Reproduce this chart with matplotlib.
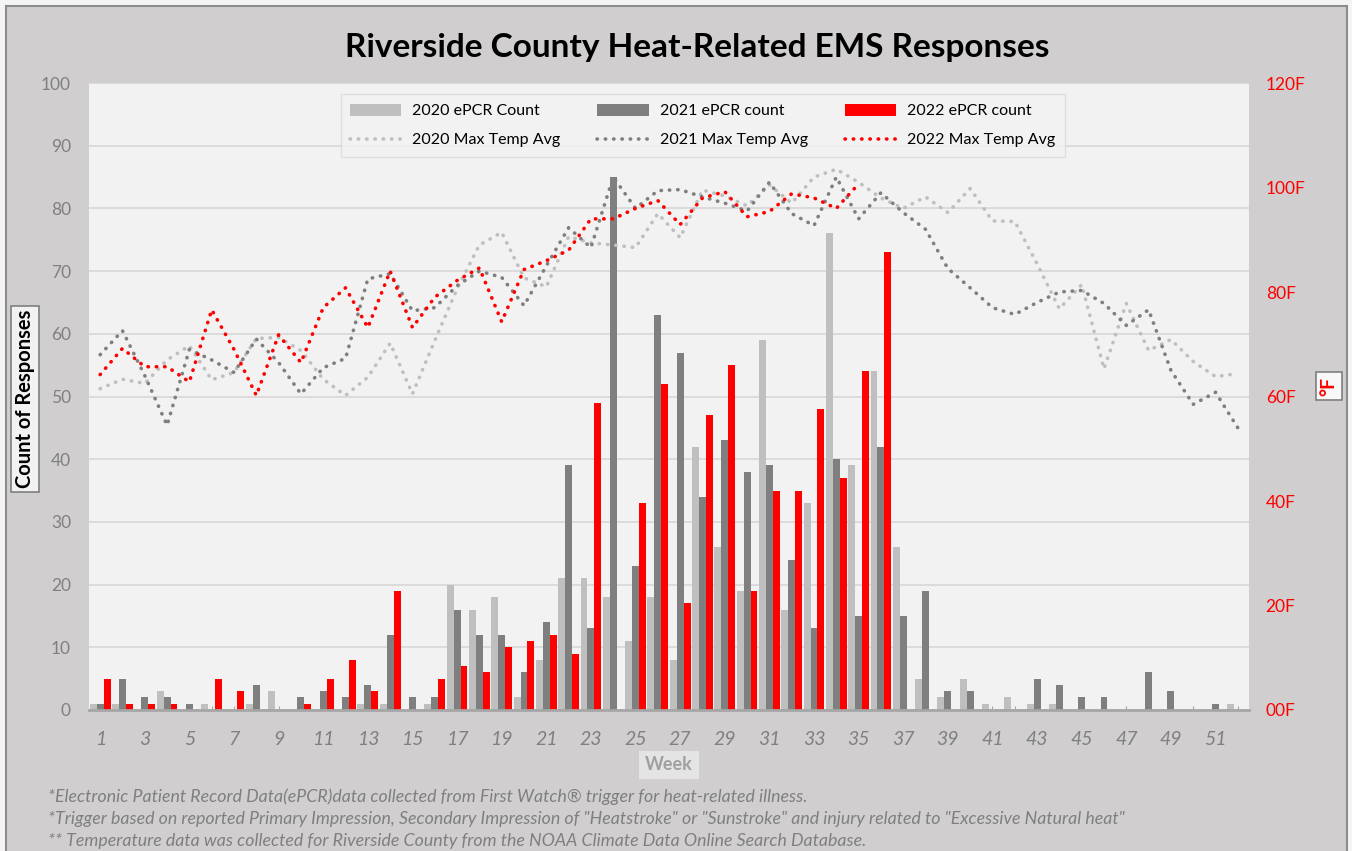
import matplotlib.pyplot as plt
from matplotlib.patches import Rectangle
import numpy as np

plt.rcParams['font.family'] = ['Lato', 'DejaVu Sans']

weeks = list(range(1, 53))

# weekly ePCR counts
count_2020 = [1, 1, 0, 3, 0, 1, 0, 1, 3, 0, 0, 0, 1, 1, 0, 1, 20, 16, 18, 2,
              8, 21, 21, 18, 11, 18, 8, 42, 26, 19, 59, 16, 33, 76, 39, 54, 26, 5, 2, 5,
              1, 2, 1, 1, 0, 0, 0, 0, 0, 0, 0, 1]
count_2021 = [1, 5, 2, 2, 1, 0, 0, 4, 0, 2, 3, 2, 4, 12, 2, 2, 16, 12, 12, 6,
              14, 39, 13, 85, 23, 63, 57, 34, 43, 38, 39, 24, 13, 40, 15, 42, 15, 19, 3, 3,
              0, 0, 5, 4, 2, 2, 0, 6, 3, 0, 1, 0]
count_2022 = [5, 1, 1, 1, 0, 5, 3, 0, 0, 1, 5, 8, 3, 19, 0, 5, 7, 6, 10, 11,
              12, 9, 49, 0, 33, 52, 17, 47, 55, 19, 35, 35, 48, 37, 54, 73]

# weekly max temperature averages (F)
temp_2020 = [61.5, 63.3, 62.5, 67, 69.7, 63.2, 64.6, 71.1, 71.3, 68.8, 63.3, 60.2, 63.7,
             70.2, 60.5, 70.7, 80.6, 89, 91.4, 82.7, 81, 90.6, 89.4, 89, 88.5, 95,
             90.4, 99.5, 98.4, 96.5, 100.5, 97, 102, 103.5, 101, 98, 96, 98.2, 95.2,
             99.8, 93.6, 93.5, 85.4, 76.8, 81.4, 65.3, 77.8, 68.8, 70.9, 66.7, 63.8, 64.4]
temp_2021 = [68, 72.6, 64, 54.5, 69, 67, 64.6, 71, 66.5, 60.5, 65.5, 67.3, 82.5,
             83.5, 76.4, 77, 81.2, 84, 82.8, 77.4, 85, 92.3, 88.5, 102, 96, 99.4,
             99.6, 98.2, 97, 95.5, 101, 95, 92.7, 102, 94, 99, 95.2, 92, 84.5,
             80.8, 77, 75.7, 78, 80, 80.3, 77.8, 73.6, 76.6, 65, 58.5, 60.8, 54]
temp_2022 = [64.2, 69.2, 65.7, 65.7, 62.8, 76.6, 69, 60.2, 71.8, 66.5, 77, 80.8, 73.2,
             84, 73.2, 79, 82.2, 84.6, 74.3, 84.3, 86, 88, 94, 94, 96, 97.5,
             92.9, 98, 99.2, 94.4, 95.4, 98.8, 98, 96, 100.7]

temp_ticks = [0, 20, 40, 60, 80, 100, 120]
temp_labels = ['00F', '20F', '40F', '60F', '80F', '100F', '120F']

C20 = '#bfbfbf'
C21 = '#7f7f7f'
C22 = '#ff0000'

fig = plt.figure(figsize=(13.52, 8.51), dpi=100, facecolor='#f4f4f4')
fig.patches.append(Rectangle((6 / 1352, -0.02), 1341 / 1352, 1.02 - 6 / 851,
                             transform=fig.transFigure, facecolor='#d0cece',
                             edgecolor='#8c8c8c', linewidth=1.5, zorder=-10))

ax = fig.add_axes([89 / 1352, 1 - 710 / 851, 1160 / 1352, 627 / 851])
ax.set_facecolor('#f2f2f2')

x = np.arange(len(weeks))
w = 0.31
b20 = ax.bar(x[:len(count_2020)] - w, count_2020, w, color=C20, label='2020 ePCR Count')
b21 = ax.bar(x[:len(count_2021)], count_2021, w, color=C21, label='2021 ePCR count')
b22 = ax.bar(x[:len(count_2022)] + w, count_2022, w, color=C22, label='2022 ePCR count')

ax.set_xlim(-0.5, len(weeks) - 0.5)
ax.set_ylim(0, 100)
ax.set_yticks(range(0, 101, 10))
ax.yaxis.grid(True, color='#d9d9d9', linewidth=1.3)
ax.set_axisbelow(True)
for s in ['left', 'right', 'top']:
    ax.spines[s].set_visible(False)
ax.spines['bottom'].set_color('#a6a6a6')
ax.spines['bottom'].set_linewidth(2)
ax.tick_params(axis='y', length=0, labelsize=12.5, labelcolor='#808080', pad=13)
ax.set_xticks(x)
ax.set_xticklabels([str(wk) if wk % 2 == 1 else '' for wk in weeks],
                   fontsize=14, style='italic', color='#808080')
ax.tick_params(axis='x', direction='in', length=3, color='#a6a6a6', pad=15)

ax.set_xlabel('Week', fontsize=13, fontweight='bold', color='#a0a0a0', labelpad=6,
              bbox=dict(facecolor='#e4e4e4', edgecolor='none', pad=4))

fig.text(25 / 1352, 1 - 399 / 851, 'Count of Responses', rotation=90, ha='center', va='center',
         fontsize=14.5, fontweight='bold', color='black',
         bbox=dict(facecolor='#f2f2f2', edgecolor='#7f7f7f', pad=3, linewidth=1.2))
fig.text(1329 / 1352, 1 - 386 / 851, '°F', rotation=90, ha='center', va='center',
         fontsize=14, fontweight='bold', color='red',
         bbox=dict(facecolor='#f8f8f8', edgecolor='#7f7f7f', pad=3, linewidth=1.2))

ax2 = ax.twinx()
dots = dict(linestyle=(0, (0.1, 2.2)), dash_capstyle='round', linewidth=2.6)
l20, = ax2.plot(x[:len(temp_2020)], temp_2020, color=C20, label='2020 Max Temp Avg', **dots)
l21, = ax2.plot(x[:len(temp_2021)], temp_2021, color=C21, label='2021 Max Temp Avg', **dots)
l22, = ax2.plot(x[:len(temp_2022)], temp_2022, color=C22, label='2022 Max Temp Avg', **dots)
ax2.set_ylim(0, 120)
ax2.set_yticks(temp_ticks)
ax2.set_yticklabels(temp_labels)
ax2.tick_params(axis='y', length=0, labelsize=12.5, labelcolor='red', pad=12)
for s in ax2.spines.values():
    s.set_visible(False)

handles = [b20, l20, b21, l21, b22, l22]
leg = ax2.legend(handles, [h.get_label() for h in handles],
                 ncol=3, loc='upper center', bbox_to_anchor=(0.529, 0.995),
                 fontsize=11.5, frameon=True, fancybox=False, columnspacing=2.3,
                 handlelength=3.2, handleheight=0.8, handletextpad=0.7,
                 labelspacing=0.9, borderpad=0.6)
leg.get_frame().set_facecolor('#f2f2f2')
leg.get_frame().set_edgecolor('#d9d9d9')

fig.text(0.516, 1 - 48 / 851, 'Riverside County Heat-Related EMS Responses',
         ha='center', va='center', fontsize=24, fontweight='bold')

notes = ['*Electronic Patient Record Data(ePCR)data collected from First Watch® trigger for heat-related illness.',
         '*Trigger based on reported Primary Impression, Secondary Impression of "Heatstroke" or "Sunstroke" and injury related to "Excessive Natural heat"',
         '** Temperature data was collected for Riverside County from the NOAA Climate Data Online Search Database.']
for i, t in enumerate(notes):
    fig.text(48 / 1352, 1 - (797 + 22 * i) / 851, t, ha='left', va='center',
             fontsize=12.8, style='italic', color='#7f7f7f')

plt.savefig('out.png', dpi=100, facecolor=fig.get_facecolor())
